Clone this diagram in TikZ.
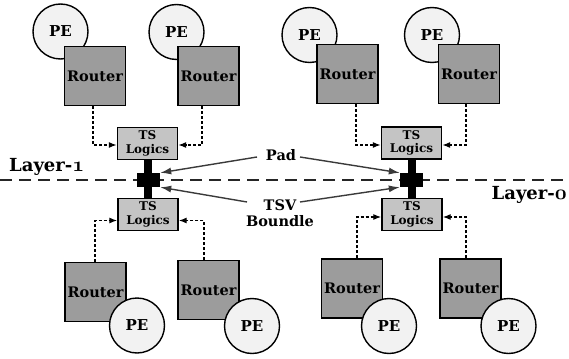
\documentclass[tikz,border=0pt]{standalone}
\usepackage{fontspec}
\setmainfont{DejaVu Serif}
\usetikzlibrary{arrows.meta}
% bold old-style digits from the math italic font
\newcommand{\osdigit}[1]{{\usefont{OML}{cmm}{b}{it}\fontsize{21}{23}\selectfont#1}}
\definecolor{pefill}{HTML}{F2F2F2}
\definecolor{routerfill}{HTML}{9C9C9C}
\definecolor{tsfill}{HTML}{C4C4C4}
\definecolor{pointer}{HTML}{3A3A3A}
\tikzset{
  pe/.style={circle, draw=black, line width=1.4pt, fill=pefill, minimum size=55pt,
    inner sep=0pt, font=\bfseries\fontsize{15}{17}\selectfont},
  router/.style={rectangle, draw=black, line width=1.4pt, fill=routerfill,
    minimum width=61pt, minimum height=59pt, inner sep=0pt,
    font=\bfseries\fontsize{14.5}{16}\selectfont},
  tslogic/.style={rectangle, draw=black, line width=1.4pt, fill=tsfill,
    minimum width=60pt, minimum height=32pt, inner sep=0pt, align=center,
    font=\bfseries\fontsize{12}{13.5}\selectfont},
  link/.style={line width=1.2pt, dash pattern=on 3pt off 2pt,
    -{Latex[length=8pt,width=6pt]}},
  padbar/.style={rectangle, fill=black, inner sep=0pt},
  pointer/.style={draw=pointer, line width=1.4pt, -{Latex[length=11pt,width=7pt]}},
  lbl/.style={font=\bfseries\fontsize{14.5}{16}\selectfont, align=center, inner sep=0pt},
  layer/.style={font=\bfseries\fontsize{18}{20}\selectfont, inner sep=0pt},
}
\begin{document}
\begin{tikzpicture}[x=1pt, y=-1pt]
\useasboundingbox (0,0) rectangle (569,358);

% layer boundary
\draw[line width=2pt, draw=black!85, dash pattern=on 12pt off 7pt] (0,180) -- (569,180);
\node[layer, anchor=base west] (l1) at (9,171.5) {Layer-\osdigit{1}};
\node[layer, anchor=base east] (l0) at (567,199) {Layer-\osdigit{0}};

% ---- upper layer, left cluster
\node[pe] (pe1) at (60.5,31.5) {PE};
\node[router] (r1) at (95,76) {Router};
\node[pe] (pe2) at (176.5,32) {PE};
\node[router] (r2) at (208.5,76) {Router};
\node[tslogic] (ts1) at (147.5,143.5) {TS\\Logics};
\draw[link] ([xshift=-2pt]r1.south) |- ([yshift=-1.5pt]ts1.west);
\draw[link] ([xshift=-6.5pt]r2.south) |- ([yshift=-1.5pt]ts1.east);

% ---- upper layer, right cluster
\node[pe] (pe3) at (309.5,35) {PE};
\node[router] (r3) at (347.5,74) {Router};
\node[pe] (pe4) at (432,35) {PE};
\node[router] (r4) at (469,74) {Router};
\node[tslogic] (ts2) at (411.5,143) {TS\\Logics};
\draw[link] ([xshift=8.5pt]r3.south) |- ([yshift=-2pt]ts2.west);
\draw[link] ([xshift=-3pt]r4.south) |- ([yshift=-2pt]ts2.east);

% ---- lower layer, left cluster
\node[tslogic] (ts3) at (148,214.5) {TS\\Logics};
\node[router] (r5) at (95.5,292) {Router};
\node[pe] (pe5) at (137,325.5) {PE};
\node[router] (r6) at (208.5,290) {Router};
\node[pe] (pe6) at (252,326) {PE};
\draw[link] ([xshift=-0.5pt]r5.north) |- ([yshift=-6pt]ts3.west);
\draw[link] ([xshift=-4.5pt]r6.north) |- ([yshift=-6pt]ts3.east);

% ---- lower layer, right cluster
\node[tslogic] (ts4) at (412,214.5) {TS\\Logics};
\node[router] (r7) at (352,288.5) {Router};
\node[pe] (pe7) at (389,326) {PE};
\node[router] (r8) at (470.5,288.5) {Router};
\node[pe] (pe8) at (508.5,326) {PE};
\draw[link] ([xshift=5pt]r7.north) |- ([yshift=-2.5pt]ts4.west);
\draw[link] ([xshift=-4.5pt]r8.north) |- ([yshift=-2.5pt]ts4.east);

% ---- TSV bundles with their pads
\fill[black] ([xshift=-3.5pt]ts1.south) rectangle ([xshift=3.5pt]ts3.north);
\node[padbar, minimum width=23pt, minimum height=14pt] (padL) at (148.5,180) {};
\fill[black] ([xshift=-3.5pt]ts2.south) rectangle ([xshift=3.5pt]ts4.north);
\node[padbar, minimum width=23pt, minimum height=14pt] (padR) at (411.5,180) {};

% ---- annotations
\node[lbl] (pad) at (281,155) {Pad};
\node[lbl] (tsv) at (280,213) {TSV\\Boundle};
\coordinate (padA) at (257,157);
\coordinate (padB) at (300,157);
\coordinate (tsvA) at (247,202);
\coordinate (tsvB) at (300,202);
\draw[pointer] (padA) -- (padL.north east);
\draw[pointer] (padB) -- (padR.north west);
\draw[pointer] (tsvA) -- (padL.south east);
\draw[pointer] (tsvB) -- (padR.south west);
\end{tikzpicture}
\end{document}
